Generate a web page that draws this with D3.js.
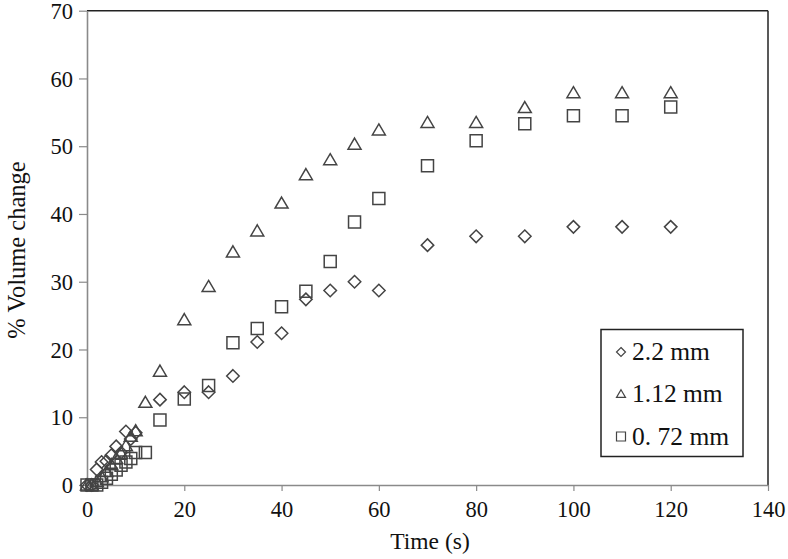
<!DOCTYPE html>
<html>
<head>
<meta charset="utf-8">
<script src="https://cdn.jsdelivr.net/npm/d3@7"></script>
<style>
  html, body { margin: 0; padding: 0; background: #fff; }
  svg text { font-family: "Liberation Serif", "Times New Roman", serif; fill: #111; }
</style>
</head>
<body>
<svg id="chart" width="788" height="559"></svg>
<script>
// ---- data ----
const seriesNames = ["2.2 mm", "1.12 mm", "0. 72 mm"];
const seriesShapes = ["diamond", "triangle", "square"];

const time22 = [0, 1, 2, 3, 4, 5, 6, 7, 8, 9, 10, 15, 20, 25, 30, 35, 40, 45, 50, 55, 60, 70, 80, 90, 100, 110, 120];
const vol22  = [0, 0, 2.3, 3.4, 3.5, 4.4, 5.7, 4.8, 7.9, 6.8, 7.7, 12.6, 13.7, 13.7, 16.1, 21.1, 22.4, 27.4, 28.7, 30.0, 28.7, 35.4, 36.7, 36.7, 38.1, 38.1, 38.1];

const time112 = [0, 1, 2, 3, 4, 5, 6, 7, 8, 9, 10, 12, 15, 20, 25, 30, 35, 40, 45, 50, 55, 60, 70, 80, 90, 100, 110, 120];
const vol112  = [0, 0, 0.5, 1.2, 2.0, 3.0, 3.9, 4.7, 5.8, 7.2, 8.0, 12.2, 16.8, 24.4, 29.3, 34.4, 37.5, 41.6, 45.8, 48.0, 50.3, 52.4, 53.5, 53.5, 55.7, 57.9, 57.9, 57.9];

const time072 = [0, 1, 2, 3, 4, 5, 6, 7, 8, 9, 10, 12, 15, 20, 25, 30, 35, 40, 45, 50, 55, 60, 70, 80, 90, 100, 110, 120];
const vol072  = [0, 0, 0, 0.4, 1.0, 1.6, 2.2, 2.9, 3.4, 3.9, 4.8, 4.8, 9.6, 12.7, 14.7, 21.0, 23.1, 26.3, 28.6, 33.0, 38.8, 42.3, 47.1, 50.8, 53.3, 54.5, 54.5, 55.8];

const xTicks = [0, 20, 40, 60, 80, 100, 120, 140];
const yTicks = [0, 10, 20, 30, 40, 50, 60, 70];
const xTitle = "Time (s)";
const yTitle = "% Volume change";

// ---- layout ----
const svg = d3.select("#chart");
const L = 87, R = 768, T = 10.7, B = 485;
const x = d3.scaleLinear().domain([0, 140]).range([L, R]);
const y = d3.scaleLinear().domain([0, 70]).range([B, T]);

const axisGray = "#8a8a8a";
const markColor = "#444";

function shapePath(shape, s) {
  const h = s / 2;
  if (shape === "square") return `M${-h},${-h}H${h}V${h}H${-h}Z`;
  if (shape === "diamond") return `M0,${-h}L${h},0L0,${h}L${-h},0Z`;
  // triangle
  const th = s * 0.85;
  return `M0,${-th * 0.55}L${h},${th * 0.45}L${-h},${th * 0.45}Z`;
}

// frame: top and right dark lines
svg.append("line").attr("x1", L).attr("x2", R).attr("y1", T).attr("y2", T)
  .attr("stroke", "#222").attr("stroke-width", 1.5);
svg.append("line").attr("x1", R).attr("x2", R).attr("y1", T).attr("y2", B)
  .attr("stroke", "#222").attr("stroke-width", 1.5);

// axes
const xAxis = svg.append("g").attr("transform", `translate(0,${B})`)
  .call(d3.axisBottom(x).tickValues(xTicks).tickSize(6).tickSizeOuter(0).tickPadding(10));
const yAxis = svg.append("g").attr("transform", `translate(${L},0)`)
  .call(d3.axisLeft(y).tickValues(yTicks).tickSize(8).tickSizeOuter(0).tickPadding(6));

[xAxis, yAxis].forEach(g => {
  g.select(".domain").attr("stroke", axisGray).attr("stroke-width", 1.6);
  g.selectAll(".tick line").attr("stroke", axisGray).attr("stroke-width", 1.2);
  g.selectAll(".tick text").style("font-family", "Liberation Serif, serif")
    .style("font-size", "22.5px").attr("fill", "#111");
});
yAxis.selectAll(".tick text").attr("dy", "0.34em");

// axis titles
svg.append("text").attr("x", 430).attr("y", 549).attr("text-anchor", "middle")
  .style("font-size", "23.5px").text(xTitle);
svg.append("text").attr("transform", "translate(25,250) rotate(-90)")
  .attr("text-anchor", "middle").style("font-size", "24.5px").text(yTitle);

// points
const seriesData = [
  time22.map((t, i) => ({ t, v: vol22[i] })),
  time112.map((t, i) => ({ t, v: vol112[i] })),
  time072.map((t, i) => ({ t, v: vol072[i] }))
];
const sizes = { diamond: 12.5, triangle: 13, square: 12 };
seriesData.forEach((data, si) => {
  const shape = seriesShapes[si];
  svg.append("g").selectAll("path").data(data).enter().append("path")
    .attr("d", shapePath(shape, sizes[shape]))
    .attr("transform", d => `translate(${x(d.t)},${y(d.v)})`)
    .attr("fill", "none").attr("stroke", markColor).attr("stroke-width", 1.5);
});

// legend
const lg = svg.append("g");
lg.append("rect").attr("x", 601).attr("y", 329.5).attr("width", 142).attr("height", 127)
  .attr("fill", "#fff").attr("stroke", "#222").attr("stroke-width", 1.5);
const legRows = [352, 394, 436.5];
seriesNames.forEach((name, i) => {
  lg.append("path").attr("d", shapePath(seriesShapes[i], 9))
    .attr("transform", `translate(621,${legRows[i]})`)
    .attr("fill", "none").attr("stroke", markColor).attr("stroke-width", 1.2);
  lg.append("text").attr("x", 632).attr("y", legRows[i] + 8)
    .style("font-size", "25.5px").text(name);
});
</script>
</body>
</html>
